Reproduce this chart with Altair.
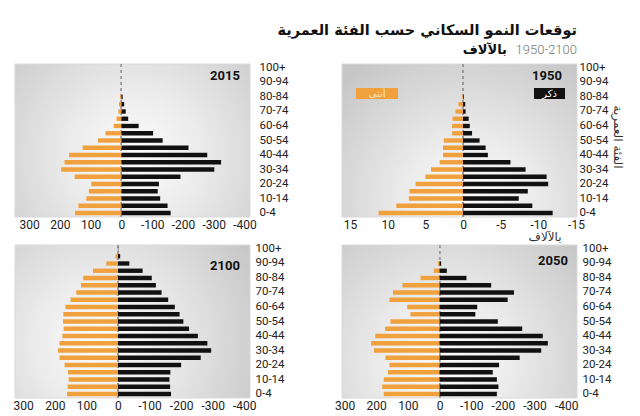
import altair as alt
import pandas as pd

# ---------------- data ----------------
ages = ["0-4", "5-9", "10-14", "15-19", "20-24", "25-29", "30-34", "35-39",
        "40-44", "45-49", "50-54", "55-59", "60-64", "65-69", "70-74", "75-79",
        "80-84", "85-89", "90-94", "95-99", "100+"]
label_ages = ages[::2]

female_1950 = [11.2, 8.85, 7.2, 7.1, 6.3, 5.0, 4.25, 3.1, 2.65, 2.65, 2.55, 1.45, 1.45, 1.4, 1.0, 0.6, 0.1, 0, 0, 0, 0]
male_1950 = [11.9, 9.2, 7.4, 8.6, 11.3, 11.1, 8.3, 6.3, 3.3, 3.0, 2.2, 1.2, 0.9, 0.75, 0.35, 0.3, 0.1, 0, 0, 0, 0]

female_2015 = [151, 140, 114, 106, 98, 152, 196, 185, 170, 126, 76, 52, 25, 16, 10, 8, 4, 0, 0, 0, 0]
male_2015 = [160, 150, 126, 118, 122, 192, 302, 324, 279, 218, 134, 103, 56, 22, 14, 9, 4, 0, 0, 0, 0]

female_2050 = [176, 181, 176, 163, 158, 171, 207, 216, 203, 172, 155, 92, 102, 158, 147, 117, 60, 18, 5, 0, 0]
male_2050 = [181, 186, 181, 168, 188, 253, 321, 342, 326, 261, 184, 113, 119, 215, 235, 163, 85, 23, 5, 0, 0]

female_2100 = [161, 159, 156, 158, 169, 185, 190, 185, 176, 172, 174, 173, 166, 150, 132, 117, 110, 79, 37, 8, 1]
male_2100 = [168, 165, 163, 166, 200, 262, 295, 283, 253, 225, 207, 195, 180, 159, 138, 120, 107, 78, 36, 7, 1]

ticks_small = [15, 10, 5, 0, -5, -10, -15]
ticks_large = [300, 200, 100, 0, -100, -200, -300, -400]

title_text = "توقعات النمو السكاني حسب الفئة العمرية"
subtitle_years = "1950-2100"
subtitle_unit = "بالآلاف"
female_label = "أنثى"
male_label = "ذكر"
y_title = "الفئة العمرية"
x_title = "بالآلاف"

ORANGE = "#F0A03C"
BLACK = "#111111"
W, H = 235, 153
ARABIC_FONT = "DejaVu Sans"
NUM_FONT = "Roboto"

one = pd.DataFrame({"k": [0]})


def panel(year, female, male, domain, ticks, light, year_xy, ypad, extras=None):
    df = pd.DataFrame({"age": ages, "female": female,
                       "male": [-m for m in male], "zero": [0] * len(ages)})
    xs = alt.Scale(domain=domain, nice=False, zero=False)
    ys = alt.Scale(domain=ages[::-1], paddingInner=0.4, paddingOuter=0.25)
    xaxis = alt.Axis(values=ticks, title=None, grid=False, ticks=False, domain=False,
                     labelFontSize=12, labelColor="#222", labelPadding=2, labelFont=NUM_FONT,
                     labelFlush=False, labelOverlap=False,
                     labelExpr="datum.value < 0 ? '-' + abs(datum.value) : '' + datum.value")
    yaxis = alt.Axis(orient="right", values=label_ages, title=None, ticks=False, domain=False,
                     labelFontSize=11.5, labelColor="#222", labelPadding=ypad, labelFont=NUM_FONT)
    grad = alt.RadialGradient(
        gradient="radial",
        stops=[alt.GradientStop(color="#fcfcfc", offset=0),
               alt.GradientStop(color="#ededed", offset=0.35),
               alt.GradientStop(color="#c6c6c6", offset=1)],
        x1=light[0], y1=light[1], r1=0, x2=light[0], y2=light[1], r2=0.75)
    bg = alt.Chart(one).mark_rect(fill=grad, stroke="#d9d9d9", strokeWidth=1).encode(
        x=alt.value(0), x2=alt.value(W), y=alt.value(0), y2=alt.value(H))
    base = alt.Chart(df)
    rule = base.mark_rule(color="#9a9a9a", strokeDash=[3, 3], strokeWidth=1).encode(
        x=alt.X("zero:Q", scale=xs, axis=xaxis))
    fbar = base.mark_bar(color=ORANGE).encode(
        x=alt.X("female:Q", scale=xs, axis=xaxis),
        y=alt.Y("age:N", scale=ys, axis=yaxis))
    mbar = base.mark_bar(color=BLACK).encode(
        x=alt.X("male:Q", scale=xs, axis=xaxis),
        y=alt.Y("age:N", scale=ys, axis=yaxis))
    ytxt = alt.Chart(one).mark_text(text=year, font=NUM_FONT, fontSize=13, fontWeight="bold",
                                    color="#111", align="center", baseline="middle").encode(
        x=alt.value(year_xy[0]), y=alt.value(year_xy[1]))
    layers = [bg, rule, fbar, mbar, ytxt]
    if extras:
        layers += extras
    return alt.layer(*layers).properties(width=W, height=H)


def txt(text, x, y, **kw):
    return alt.Chart(one).mark_text(text=text, **kw).encode(x=alt.value(x), y=alt.value(y))


def box(x1, x2, y1, y2, color):
    return alt.Chart(one).mark_rect(color=color).encode(
        x=alt.value(x1), x2=alt.value(x2), y=alt.value(y1), y2=alt.value(y2))


extras_1950 = [
    txt(title_text, 235, -33, font=ARABIC_FONT, fontSize=14.5, fontWeight="bold",
        color="#111", align="right", baseline="middle"),
    txt(subtitle_years, 235, -14, font=NUM_FONT, fontSize=13, fontWeight=300,
        color="#777", align="right", baseline="middle"),
    txt(subtitle_unit, 165, -14, font=ARABIC_FONT, fontSize=13, fontWeight="bold",
        color="#111", align="right", baseline="middle"),
    box(14, 56, 24, 35, ORANGE),
    txt(female_label, 35, 29.5, font=ARABIC_FONT, fontSize=10, color="#fde9cf",
        align="center", baseline="middle"),
    box(192, 223, 24, 35, BLACK),
    txt(male_label, 207.5, 29.5, font=ARABIC_FONT, fontSize=10, color="#ffffff",
        align="center", baseline="middle"),
    txt(y_title, 276, 73, font=ARABIC_FONT, fontSize=12, color="#333",
        align="center", baseline="middle", angle=90),
    txt(x_title, 203, 173, font=ARABIC_FONT, fontSize=12, color="#333",
        align="center", baseline="middle"),
]

p2015 = panel("2015", female_2015, male_2015, [346, -418], ticks_large, (0.51, 0.57), (210, 12), 9)
p1950 = panel("1950", female_1950, male_1950, [16.06, -15.13], ticks_small, (0.54, 0.77), (205, 12), 2,
              extras_1950)
p2100 = panel("2100", female_2100, male_2100, [326, -418], ticks_large, (0.37, 0.59), (210, 21), 5)
p2050 = panel("2050", female_2050, male_2050, [308, -434], ticks_large, (0.44, 0.67), (211, 16), 5)

chart = alt.concat(p2015, p1950, p2100, p2050, columns=2,
                   spacing={"row": 28, "column": 92}, bounds="flush").configure_view(
    stroke=None).properties(padding={"left": 5, "top": 15, "right": 5, "bottom": 5},
                            background="white")

chart.save("out.html", embed_options={"renderer": "svg", "actions": False})
